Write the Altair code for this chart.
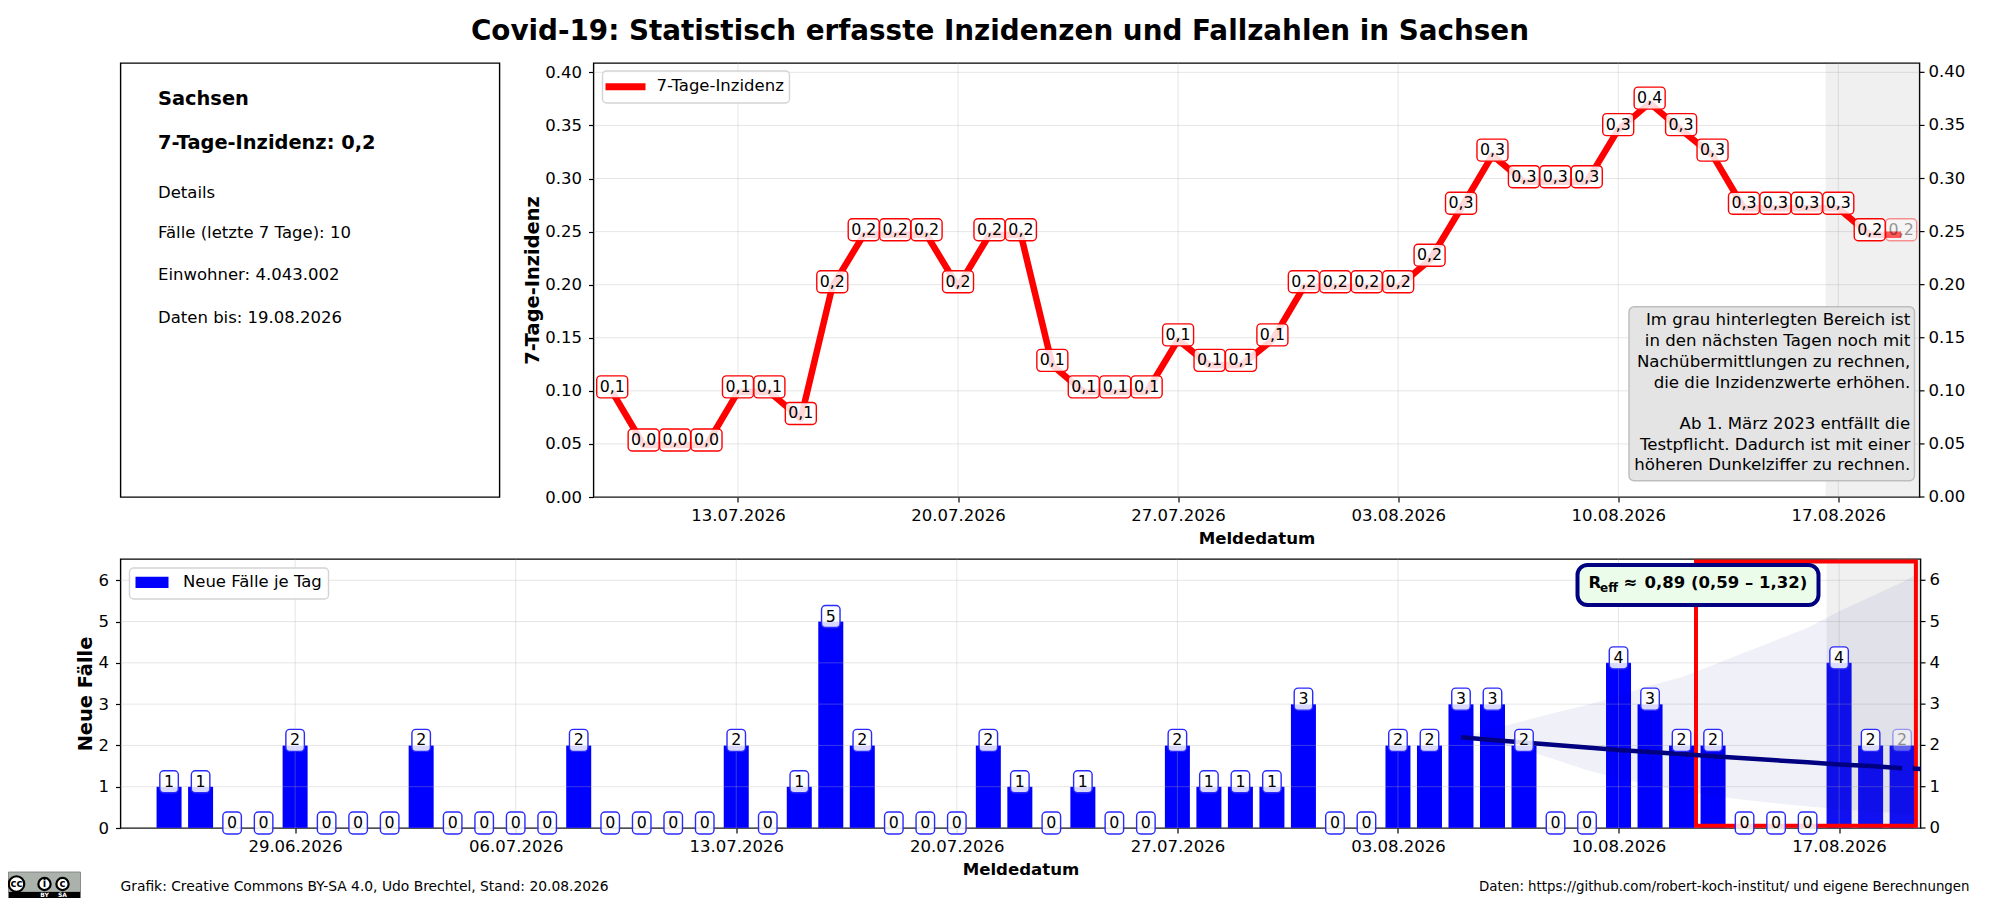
import altair as alt
import pandas as pd

FONT = "DejaVu Sans"
case_start = "2026-06-25"
cases = [1,1,0,0,2,0,0,0,2,0,0,0,0,2,0,0,0,0,2,0,1,5,2,0,0,0,2,1,0,1,0,0,2,1,1,1,3,0,0,2,2,3,3,2,0,0,4,3,2,2,0,0,0,4,2,2]
inc_start = "2026-07-09"
incidence = [0.099,0.049,0.049,0.049,0.099,0.099,0.074,0.198,0.247,0.247,0.247,0.198,0.247,0.247,0.124,0.099,0.099,0.099,0.148,0.124,0.124,0.148,0.198,0.198,0.198,0.198,0.223,0.272,0.322,0.297,0.297,0.297,0.346,0.371,0.346,0.322,0.272,0.272,0.272,0.272,0.247,0.247]
inc_labels = ["0,1","0,0","0,0","0,0","0,1","0,1","0,1","0,2","0,2","0,2","0,2","0,2","0,2","0,2","0,1","0,1","0,1","0,1","0,1","0,1","0,1","0,1","0,2","0,2","0,2","0,2","0,2","0,3","0,3","0,3","0,3","0,3","0,3","0,4","0,3","0,3","0,3","0,3","0,3","0,3","0,2","0,2"]

r_days = ["2026-08-05","2026-08-06","2026-08-07","2026-08-08","2026-08-09","2026-08-10","2026-08-11","2026-08-12","2026-08-13","2026-08-14","2026-08-15","2026-08-16","2026-08-17","2026-08-18","2026-08-19"]
r_mid = [2.20,2.13,2.07,2.01,1.95,1.89,1.84,1.79,1.74,1.69,1.64,1.59,1.54,1.50,1.45]
r_up = [2.20,2.40,2.60,2.80,2.98,3.20,3.45,3.65,3.95,4.25,4.55,4.85,5.25,5.60,5.95]
r_lo = [2.20,2.05,1.90,1.65,1.40,1.20,1.05,0.90,0.78,0.68,0.60,0.52,0.46,0.40,0.36]
band_end = ["2026-08-19T10:00:00"]
band_end_up = [6.13]
band_end_lo = [0.35]
tail_days = ["2026-08-19T08:00:00", "2026-08-19T14:00:00"]
tail_vals = [1.44, 1.43]

top_ticks = [(7,13),(7,20),(7,27),(8,3),(8,10),(8,17)]
bottom_ticks = [(6,29),(7,6)] + top_ticks
top_y_ticks = [0,0.05,0.10,0.15,0.20,0.25,0.30,0.35,0.40]
top_y_text = ["0.00","0.05","0.10","0.15","0.20","0.25","0.30","0.35","0.40"]
bottom_y_ticks = [0,1,2,3,4,5,6]
bottom_y_text = ["0","1","2","3","4","5","6"]

note_lines = ["Im grau hinterlegten Bereich ist","in den nächsten Tagen noch mit","Nachübermittlungen zu rechnen,","die die Inzidenzwerte erhöhen.","","Ab 1. März 2023 entfällt die","Testpflicht. Dadurch ist mit einer","höheren Dunkelziffer zu rechnen."]

def dt(m, d, h=0, mi=0):
    return alt.DateTime(year=2026, month=m, date=d, hours=h, minutes=mi)
def iso(m, d):
    return f"2026-{m:02d}-{d:02d}T00:00:00"

df_c = pd.DataFrame({"d": pd.date_range(case_start, periods=len(cases)).strftime("%Y-%m-%dT00:00:00"), "v": cases})
df_c["l"] = df_c["v"].astype(str)
df_c["a"] = [1.0]*(len(cases)-1) + [0.4]
df_i = pd.DataFrame({"d": pd.date_range(inc_start, periods=len(incidence)).strftime("%Y-%m-%dT00:00:00"),
                     "v": incidence, "l": inc_labels})
df_i["a"] = [1.0]*(len(incidence)-1) + [0.4]
df_r = pd.DataFrame({"d": [x+"T00:00:00" for x in r_days] + band_end,
                     "m": r_mid + [None], "u": r_up + band_end_up, "o": r_lo + band_end_lo})

xs_top = alt.Scale(domain=[dt(7,8,9,43), dt(8,19,14,0)], nice=False, padding=0)
xs_bot = alt.Scale(domain=[dt(6,23,11,0), dt(8,19,14,0)], nice=False, padding=0)
ys_top = alt.Scale(domain=[0, 0.4088], nice=False)
ys_bot = alt.Scale(domain=[0, 6.515], nice=False)

AX = dict(labelFontSize=16.5, labelFont=FONT, labelColor="black", tickColor="black", tickSize=5, tickWidth=1.2,
          domain=False, grid=False, titleFont=FONT, titleFontWeight="bold", titleColor="black",
          labelOverlap=False, labelFlush=False, labelBound=False)

def make_enc(xs, ys, ticks, yticks, ytitle, yfmt):
    xax = alt.Axis(values=[dt(m,d) for m,d in ticks], format="%d.%m.%Y", title="Meldedatum", labelPadding=5, titlePadding=7, titleFontSize=16.6, **AX)
    yax = alt.Axis(values=yticks, format=yfmt, title=ytitle, labelPadding=7, titlePadding=2.5, titleFontSize=19.4, **AX)
    return (lambda f="d": alt.X(f"{f}:T", scale=xs, axis=xax)), (lambda f="v": alt.Y(f"{f}:Q", scale=ys, axis=yax))

XT, YT = make_enc(xs_top, ys_top, top_ticks, top_y_ticks, "7-Tage-Inzidenz", ".2f")
XB, YB = make_enc(xs_bot, ys_bot, bottom_ticks, bottom_y_ticks, "Neue Fälle", "d")

GRID = dict(color="#b0b0b0", opacity=0.32, strokeWidth=1)

def t(txt, x, y, size, weight="normal", align="left", color="black"):
    return alt.Chart(pd.DataFrame({"t":[txt]})).mark_text(font=FONT, fontSize=size, fontWeight=weight, align=align, baseline="middle", color=color).encode(
        x=alt.value(x), y=alt.value(y), text="t:N")

def panel(X, Y, ticks, yticks, ytext, w):
    tickdf = pd.DataFrame({"d":[iso(m,d) for m,d in ticks]})
    ydf = pd.DataFrame({"v": yticks, "l": ytext})
    gx = alt.Chart(tickdf).mark_rule(**GRID).encode(x=X())
    gy = alt.Chart(ydf).mark_rule(**GRID).encode(y=Y())
    # axis on the right-hand side, same scale as the left one
    rt = alt.Chart(ydf).mark_rule(color="black", strokeWidth=1.2).encode(x=alt.value(w), x2=alt.value(w+5), y=Y())
    rl = alt.Chart(ydf).mark_text(font=FONT, fontSize=16.5, color="black", align="left", baseline="middle").encode(
        x=alt.value(w+9), y=Y(), text="l:N")
    return gx, gy, rt, rl

def shade(X):
    d = pd.DataFrame({"a":["2026-08-16T14:24:00"], "b":["2026-08-19T14:00:00"]})
    return alt.Chart(d).mark_rect(color="#808080", opacity=0.12).encode(x=X("a"), x2="b:T")

def labels(df, X, Y, col, w):
    pos = dict(x=X(), y=Y(), opacity=alt.Opacity("a:Q", scale=None))
    box = alt.Chart(df).mark_rect(width=w, height=22, cornerRadius=4, fill="white", fillOpacity=0.85, stroke=col, strokeWidth=1.4, yOffset=-5).encode(**pos)
    txt = alt.Chart(df).mark_text(font=FONT, fontSize=15.8, color="black", baseline="middle", yOffset=-5).encode(text="l:N", **pos)
    return box, txt

one = alt.Chart(pd.DataFrame({"a":[0]}))
def legend_box(x0, x1, y0, y1):
    return one.mark_rect(fill="white", stroke="#d0d0d0", strokeWidth=1.4, cornerRadius=4, opacity=0.9).encode(
        x=alt.value(x0), x2=alt.value(x1), y=alt.value(y0), y2=alt.value(y1))

# ---------- info panel
infos = [("Sachsen", 37.5, 36, 19.4, "bold"), ("7-Tage-Inzidenz: 0,2", 37.5, 80, 19.4, "bold"),
         ("Details", 37.5, 130, 16.5, "normal"), ("Fälle (letzte 7 Tage): 10", 37.5, 170, 16.5, "normal"),
         ("Einwohner: 4.043.002", 37.5, 212, 16.5, "normal"), ("Daten bis: 19.08.2026", 37.5, 255, 16.5, "normal")]
info = alt.layer(*[t(a, x, y, s, w) for a,x,y,s,w in infos]).properties(width=379, height=434)

# ---------- top plot
gx, gy, rt, rl = panel(XT, YT, top_ticks, top_y_ticks, top_y_text, 1326)
line = alt.Chart(df_i).mark_line(strokeWidth=6.5, strokeJoin="round", color="#ff0000").encode(x=XT(), y=YT())
ib, it = labels(df_i, XT, YT, "#ff0000", 31)
note_box = one.mark_rect(fill="#e4e4e4", stroke="#bdbdbd", strokeWidth=1.4, cornerRadius=5).encode(
    x=alt.value(1035.5), x2=alt.value(1321), y=alt.value(243.7), y2=alt.value(417.7))
note_y = [257, 278, 299, 319.5, 340, 361, 382, 402]
notes = [t(a, 1316.7, y, 16.6, align="right") for a,y in zip(note_lines, note_y) if a]
leg_top = [legend_box(9, 196, 8, 40),
           one.mark_rule(color="#ff0000", strokeWidth=7).encode(x=alt.value(12), x2=alt.value(52), y=alt.value(23.7)),
           t("7-Tage-Inzidenz", 63, 23, 16.5)]
top = alt.layer(gx, gy, rt, rl, shade(XT), line, ib, it, note_box, *notes, *leg_top).properties(width=1326, height=434)

# ---------- bottom plot
gx2, gy2, rt2, rl2 = panel(XB, YB, bottom_ticks, bottom_y_ticks, bottom_y_text, 1800)
bars = alt.Chart(df_c[df_c.v > 0]).mark_bar(width=25, color="#0000ff").encode(x=XB(), y=YB())
band = alt.Chart(df_r).mark_area(color="#000080", opacity=0.06).encode(x=XB(), y=YB("u"), y2="o:Q")
rline = alt.Chart(df_r.dropna()).mark_line(color="#000080", strokeWidth=4.5).encode(x=XB(), y=YB("m"))
rtail = alt.Chart(pd.DataFrame({"d":tail_days,"m":tail_vals})).mark_line(color="#000080", strokeWidth=4.5).encode(x=XB(), y=YB("m"))
red = alt.Chart(pd.DataFrame({"a":["2026-08-12T11:00:00"],"b":["2026-08-19T10:30:00"],"y":[0.055],"y2":[6.455]})).mark_rect(
    fillOpacity=0, stroke="#ff0000", strokeWidth=4).encode(x=XB("a"), x2="b:T", y=YB("y"), y2="y2:Q")
cb, ct = labels(df_c, XB, YB, "#2a2aff", 18.5)
reff_box = one.mark_rect(fill="#ebfceb", stroke="#000080", strokeWidth=4, cornerRadius=10).encode(
    x=alt.value(1457), x2=alt.value(1698), y=alt.value(6), y2=alt.value(46))
reff = [t("R", 1468, 24, 16.5, "bold"), t("eff", 1479.5, 29, 12, "bold"), t("≈", 1503, 24, 16.5, "bold"), t("0,89 (0,59 – 1,32)", 1524, 24, 16.5, "bold")]
footer = [t("Grafik: Creative Commons BY-SA 4.0, Udo Brechtel, Stand: 20.08.2026", 0, 328, 13.85),
          t("Daten: https://github.com/robert-koch-institut/ und eigene Berechnungen", 1849, 328, 13.35, align="right")]
logo = [one.mark_rect(fill="#aab2ab", stroke="#777777", strokeWidth=0.8).encode(x=alt.value(-112), x2=alt.value(-40), y=alt.value(313), y2=alt.value(333)),
        one.mark_rect(fill="black").encode(x=alt.value(-112), x2=alt.value(-40), y=alt.value(333), y2=alt.value(339))]
for cx, sz in [(-104, 240), (-76, 150), (-58, 150)]:
    logo.append(one.mark_point(shape="circle", filled=True, fill="white", stroke="black", strokeWidth=2.2, size=sz, opacity=1).encode(x=alt.value(cx), y=alt.value(325)))
logo += [t("cc", -104, 324.5, 10, "bold", "center"), t("i", -76, 325, 10, "bold", "center"), t("c", -58, 325, 10, "bold", "center"),
         t("BY", -76, 336, 6, "bold", "center", "white"), t("SA", -58, 336, 6, "bold", "center", "white")]
leg_bot = [legend_box(9, 208, 9, 40),
           one.mark_rect(fill="#0000ff").encode(x=alt.value(15), x2=alt.value(48), y=alt.value(17.7), y2=alt.value(29)),
           t("Neue Fälle je Tag", 62.4, 23.3, 16.5)]

bottom = alt.layer(bars, gx2, gy2, rt2, rl2, shade(XB), band, red, rline, rtail, cb, ct, reff_box, *reff, *footer, *logo, *leg_bot).properties(width=1800, height=269)

row1 = alt.hconcat(info, top, spacing=21)
chart = alt.vconcat(row1, bottom, spacing=9).properties(
    title=alt.TitleParams("Covid-19: Statistisch erfasste Inzidenzen und Fallzahlen in Sachsen", font=FONT, fontSize=27.8, fontWeight="bold",
                          color="black", anchor="middle", offset=16, dx=13),
    padding={"left":-4.5,"top":10,"right":0,"bottom":0}
).configure_view(stroke="black", strokeWidth=1.4)
chart.save("out.html", embed_options={"renderer": "svg", "actions": False})
